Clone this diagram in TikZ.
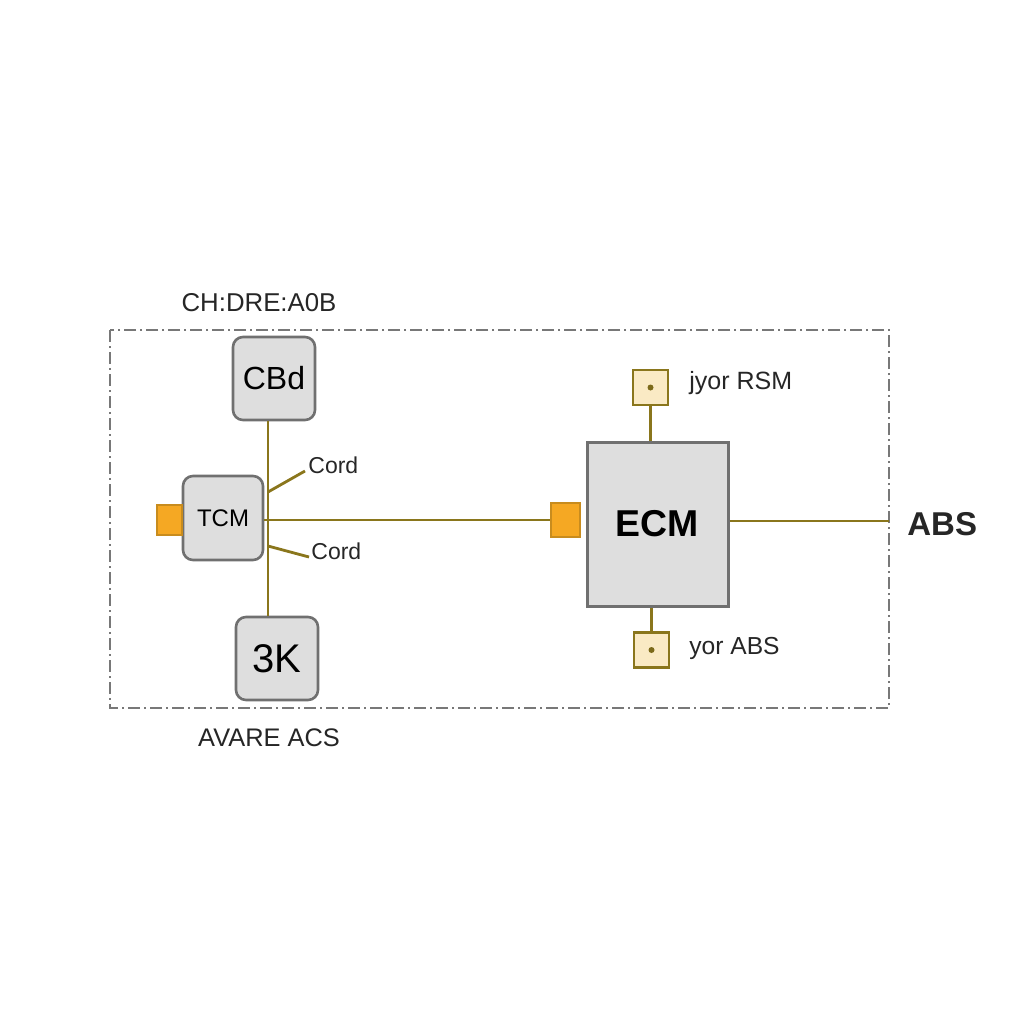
\documentclass[tikz,border=0pt]{standalone}
\usepackage{fontspec}
\setmainfont{Liberation Sans}
\definecolor{wire}{RGB}{138,118,28}
\definecolor{boxfill}{RGB}{222,222,222}
\definecolor{boxline}{RGB}{112,112,112}
\definecolor{port}{RGB}{245,168,35}
\definecolor{portline}{RGB}{200,140,30}
\definecolor{sensfill}{RGB}{250,234,196}
\definecolor{frame}{RGB}{120,120,120}
\newcommand{\fs}[1]{\fontsize{#1}{#1}\selectfont}
\tikzset{
  wireline/.style={draw=wire,line width=1.4pt},
  module/.style={draw=boxline,fill=boxfill,line width=1.3pt,rounded corners=5pt,inner sep=0pt},
  ecmbox/.style={draw=boxline,fill=boxfill,line width=1.5pt,inner sep=0pt},
  portbox/.style={draw=portline,fill=port,line width=0.8pt,inner sep=0pt},
  sensor/.style={draw=wire,fill=sensfill,line width=1.1pt,inner sep=0pt,minimum width=17.5pt,minimum height=17.5pt},
  lbl/.style={inner sep=0pt,text=black!85}
}
\begin{document}
\begin{tikzpicture}[x=0.5pt,y=-0.5pt]
\useasboundingbox[fill=white] (0,0) rectangle (1024,1024);
% frame
\draw[frame,line width=0.8pt,dash pattern=on 6pt off 2pt on 1pt off 2pt] (110,330) rectangle (889,708);
\node[lbl,font=\fs{12.9}] (title) at (259,303) {CH:DRE:A0B};
\node[lbl,font=\fs{12.7}] (bottom) at (269,738) {AVARE ACS};
% bus
\coordinate (busx) at (268,0);
\node[module,minimum width=41pt,minimum height=41.5pt,font=\fs{16}] (cbd) at (274,378.5) {CBd};
\node[module,minimum width=41pt,minimum height=41.5pt,font=\fs{20}] (k3) at (277,658.5) {3K};
\node[module,minimum width=40pt,minimum height=42pt,font=\fs{12}] (tcm) at (223,518) {TCM};
\node[portbox,minimum width=12.5pt,minimum height=15pt] (tport) at (169.5,520) {};
\draw[wireline] (cbd.south -| busx) -- (k3.north -| busx);
% cords
\node[lbl,anchor=west,font=\fs{11.5}] (cord1) at (308,465) {Cord};
\node[lbl,anchor=west,font=\fs{11.5}] (cord2) at (311,551) {Cord};
\coordinate (c1a) at (268,492);
\coordinate (c1b) at (305,471);
\coordinate (c2a) at (268,546);
\coordinate (c2b) at (309,557);
\draw[wireline] (c1a) -- (c1b);
\draw[wireline] (c2a) -- (c2b);
% ECM
\node[ecmbox,minimum width=70.5pt,minimum height=82pt,font=\bfseries\fs{18.7}] (ecm) at (657.5,524) {ECM};
\node[portbox,minimum width=14.5pt,minimum height=17pt] (eport) at (565.5,520) {};
\draw[wireline] (tcm.east |- eport.west) -- (eport.west);
% sensors
\node[sensor] (s1) at (650.5,387.5) {};
\node[sensor] (s2) at (651.5,650) {};
\fill[wire!90!black] (s1.center) circle (3);
\fill[wire!90!black] (s2.center) circle (3);
\draw[wireline] (s1.south) -- (s1.south |- ecm.north);
\draw[wireline] (s2.north) -- (s2.north |- ecm.south);
\node[lbl,anchor=west,font=\fs{12.5}] (rsm) at (689,383) {jyor RSM};
\node[lbl,anchor=west,font=\fs{12.3}] (absl) at (689,648) {yor ABS};
% ABS
\coordinate (fr) at (889,521);
\node[lbl,anchor=west,font=\bfseries\fs{16.5}] (abs) at (907,524) {ABS};
\draw[wireline] (ecm.east |- fr) -- (fr);
\end{tikzpicture}
\end{document}
